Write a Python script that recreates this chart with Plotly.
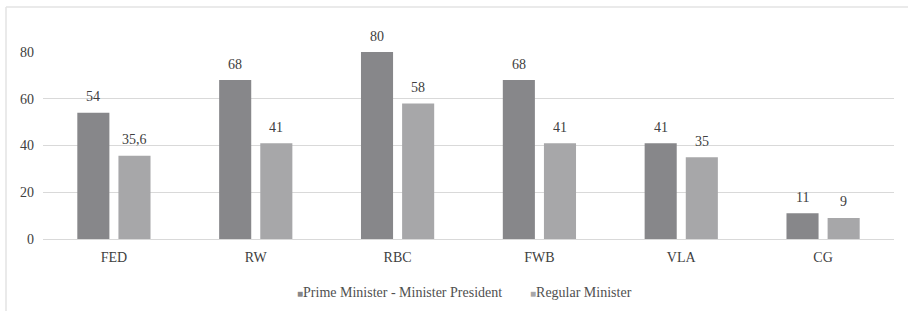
import plotly.graph_objects as go

categories = ["FED", "RW", "RBC", "FWB", "VLA", "CG"]
pm_values = [54, 68, 80, 68, 41, 11]
pm_labels = ["54", "68", "80", "68", "41", "11"]
reg_values = [35.6, 41, 58, 41, 35, 9]
reg_labels = ["35,6", "41", "58", "41", "35", "9"]
y_ticks = [0, 20, 40, 60, 80]
series_names = ["Prime Minister - Minister President", "Regular Minister"]
series_colors = ["#87878a", "#a7a7a9"]

FAM = "Liberation Serif, Times New Roman, serif"
font = dict(family=FAM, size=14, color="#404040")

fig = go.Figure()
fig.add_trace(go.Bar(
    x=categories, y=pm_values, name=series_names[0],
    marker=dict(color=series_colors[0], line=dict(width=0)), showlegend=False,
))
fig.add_trace(go.Bar(
    x=categories, y=reg_values, name=series_names[1],
    marker=dict(color=series_colors[1], line=dict(width=0)), showlegend=False,
))

L, R, T, B = 43, 14, 52, 72
W, H = 908, 311
pw = W - L - R
ph = H - T - B

def px_x(p):
    return (p - L) / pw

def px_y(p):
    return (H - B - p) / ph

annotations = []
for vals, labs, shift in [(pm_values, pm_labels, -20.5), (reg_values, reg_labels, 20.5)]:
    for c, v, t in zip(categories, vals, labs):
        annotations.append(dict(x=c, y=v, text=t, xshift=shift, yshift=16,
                                showarrow=False, yanchor="middle", xanchor="center",
                                font=font))

# legend drawn as text with square glyphs
legend_x = [295, 528]
for name, col, lx in zip(series_names, series_colors, legend_x):
    annotations.append(dict(xref="paper", yref="paper", x=px_x(lx), y=px_y(292),
                            xanchor="left", yanchor="middle", showarrow=False,
                            text=f"<span style='color:{col};font-size:10px'>■</span>{name}",
                            font=dict(family=FAM, size=14, color="#505050")))

fig.update_layout(
    width=W, height=H,
    margin=dict(l=L, r=R, t=T, b=B, pad=0, autoexpand=False),
    paper_bgcolor="white", plot_bgcolor="white",
    barmode="group", bargap=0.42, bargroupgap=0.22,
    font=font,
    showlegend=False,
    annotations=annotations,
    xaxis=dict(showgrid=False, showline=False, zeroline=False, ticks="",
               tickfont=font, ticklabelstandoff=8, automargin=False),
    yaxis=dict(range=[0, 80], tickvals=y_ticks, showgrid=True, gridcolor="#d9d9d9",
               gridwidth=1, zeroline=True, zerolinecolor="#d9d9d9", zerolinewidth=1,
               showline=False, ticks="", tickfont=font, ticklabelstandoff=8, automargin=False),
    shapes=[
        dict(type="line", xref="paper", yref="paper", x0=px_x(6), x1=px_x(6),
             y0=px_y(7), y1=px_y(315), line=dict(color="#e3e3e3", width=1.5)),
        dict(type="line", xref="paper", yref="paper", x0=px_x(6), x1=px_x(915),
             y0=px_y(7), y1=px_y(7), line=dict(color="#e3e3e3", width=1.5)),
    ],
)

fig.write_html("out.html", config={"displayModeBar": False},
               post_script="document.body.style.margin='0';")
